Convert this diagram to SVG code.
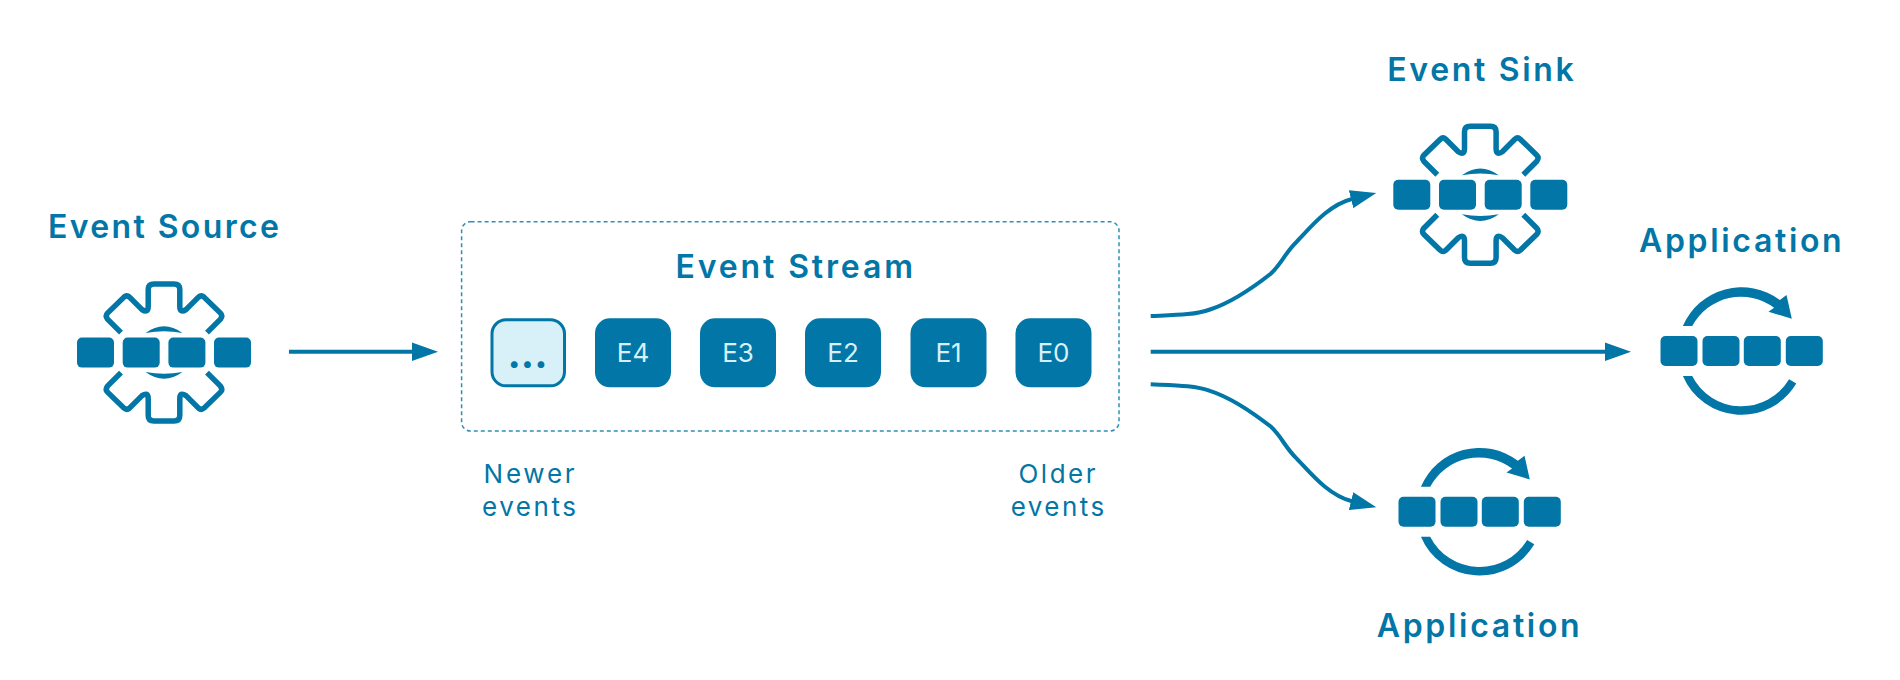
<svg xmlns="http://www.w3.org/2000/svg" xmlns:xlink="http://www.w3.org/1999/xlink" width="1900" height="680" viewBox="0 0 1900 680">
<style>
text{font-family:"Inter","Noto Sans","Liberation Sans",sans-serif;fill:#0276a6}
.title{font-size:32px;font-weight:600}
.note{font-size:26px;font-weight:400}
.tile{fill:#0276a6}
.tl{font-size:26px;fill:#d8f0f7;text-anchor:middle}
.bar{fill:#0276a6}
.conn{fill:none;stroke:#0276a6;stroke-width:4;marker-end:url(#arrow)}
.gear{fill:none;stroke:#0276a6;stroke-width:5.5;stroke-linejoin:round}
.fill{fill:#0276a6}
</style>
<defs>
<marker id="arrow" markerUnits="userSpaceOnUse" viewBox="0 0 26 19" refX="1" refY="9.5" markerWidth="26" markerHeight="19" orient="auto"><path d="M0,0.3L26,9.5L0,18.7Z" fill="#0276a6"/></marker>
<g id="bars4gear">
<rect class="bar" x="-87" y="-15" width="37" height="30" rx="5"/><rect class="bar" x="-41.3" y="-15" width="37" height="30" rx="5"/><rect class="bar" x="4.4" y="-15" width="37" height="30" rx="5"/><rect class="bar" x="50" y="-15" width="37" height="30" rx="5"/>
</g>
<g id="gearhalf">
<path class="gear" d="M-43,-20L-56.5,-33.5Q-59,-37 -56.5,-39.5L-40,-55.5Q-37.3,-58 -34.5,-55.5L-22,-43Q-15.8,-39 -15.8,-46V-63Q-15.8,-68.5 -10,-68.5H10Q15.8,-68.5 15.8,-63V-46Q15.8,-39 22,-43L34.5,-55.5Q37.3,-58 40,-55.5L56.5,-39.5Q59,-37 56.5,-33.5L43,-20"/>
<path class="fill" d="M-18.5,-19.5Q0,-33 18.5,-19.5Q0,-23 -18.5,-19.5Z"/>
</g>
<g id="gearicon">
<use href="#gearhalf"/><use href="#gearhalf" transform="scale(1,-1)"/><use href="#bars4gear"/>
</g>
<g id="appicon">
<rect class="bar" x="-81" y="-15" width="37" height="30" rx="5"/><rect class="bar" x="-39" y="-15" width="37" height="30" rx="5"/><rect class="bar" x="2.3" y="-15" width="37" height="30" rx="5"/><rect class="bar" x="44.3" y="-15" width="37" height="30" rx="5"/>
<path class="fill" d="M-58.6,-25A63.7,63.7 0 0 1 38.4,-50.9L45,-56L50.3,-32.3L27,-39.3L32.6,-43.2A55.3,55.3 0 0 0 -49.3,-25Z"/>
<path class="fill" d="M-58.6,25A63.7,63.7 0 0 0 54.8,32.6L47.6,28.3A55.3,55.3 0 0 1 -49.3,25Z"/>
</g>
</defs>

<g id="connectors">
<path class="conn" d="M289,351.7H413"/>
<path class="conn" d="M1150.7,351.7H1606"/>
<path class="conn" d="M1150.7,316C1175,315 1195,315 1210,309.5C1230,303 1250,290 1271,273.5C1282,263 1285,253 1296.7,241.7C1310,228 1328,205 1352,199"/>
<path class="conn" d="M1150.7,384.3C1175,385.3 1195,385.3 1210,390.8C1230,397.3 1250,410.3 1271,426.8C1282,437.3 1285,447.3 1296.7,458.6C1310,472.3 1328,495.3 1352,501.3"/>
</g>

<g id="event-source">
<use href="#gearicon" transform="translate(164,352.6)"/>
<text class="title" x="48" y="238" textLength="231">Event Source</text>
</g>

<g id="event-stream">
<rect x="461.6" y="221.7" width="657.4" height="209.3" rx="9" fill="none" stroke="#2e8fb6" stroke-width="1.5" stroke-dasharray="4 3"/>
<text class="title" x="675.5" y="278.3" textLength="237.5">Event Stream</text>
</g>

<g id="tile-more">
<rect x="492" y="319.8" width="72.5" height="66" rx="14" fill="#d8f0f7" stroke="#0276a6" stroke-width="3"/>
<text x="527.5" y="367.5" text-anchor="middle" font-size="40" font-weight="700">...</text>
</g>
<g id="tile-e4"><rect class="tile" x="595" y="318.3" width="76" height="69" rx="15"/><text class="tl" x="633" y="362.3">E4</text></g>
<g id="tile-e3"><rect class="tile" x="700" y="318.3" width="76" height="69" rx="15"/><text class="tl" x="738" y="362.3">E3</text></g>
<g id="tile-e2"><rect class="tile" x="805" y="318.3" width="76" height="69" rx="15"/><text class="tl" x="843" y="362.3">E2</text></g>
<g id="tile-e1"><rect class="tile" x="910.5" y="318.3" width="76" height="69" rx="15"/><text class="tl" x="948.5" y="362.3">E1</text></g>
<g id="tile-e0"><rect class="tile" x="1015.5" y="318.3" width="76" height="69" rx="15"/><text class="tl" x="1053.5" y="362.3">E0</text></g>

<g id="newer-label">
<text class="note" x="483.6" y="483.3" textLength="91">Newer</text>
<text class="note" x="482" y="516" textLength="94">events</text>
</g>
<g id="older-label">
<text class="note" x="1018.5" y="483.3" textLength="77">Older</text>
<text class="note" x="1010.7" y="516" textLength="93.5">events</text>
</g>

<g id="event-sink">
<text class="title" x="1387.3" y="80.7" textLength="186.4">Event Sink</text>
<use href="#gearicon" transform="translate(1480.3,194.7)"/>
</g>

<g id="application-right">
<text class="title" x="1639" y="252.3" textLength="202.7">Application</text>
<use href="#appicon" transform="translate(1741.5,351)"/>
</g>

<g id="application-bottom">
<use href="#appicon" transform="translate(1479.5,511.7)"/>
<text class="title" x="1376.7" y="636.7" textLength="203">Application</text>
</g>
</svg>
